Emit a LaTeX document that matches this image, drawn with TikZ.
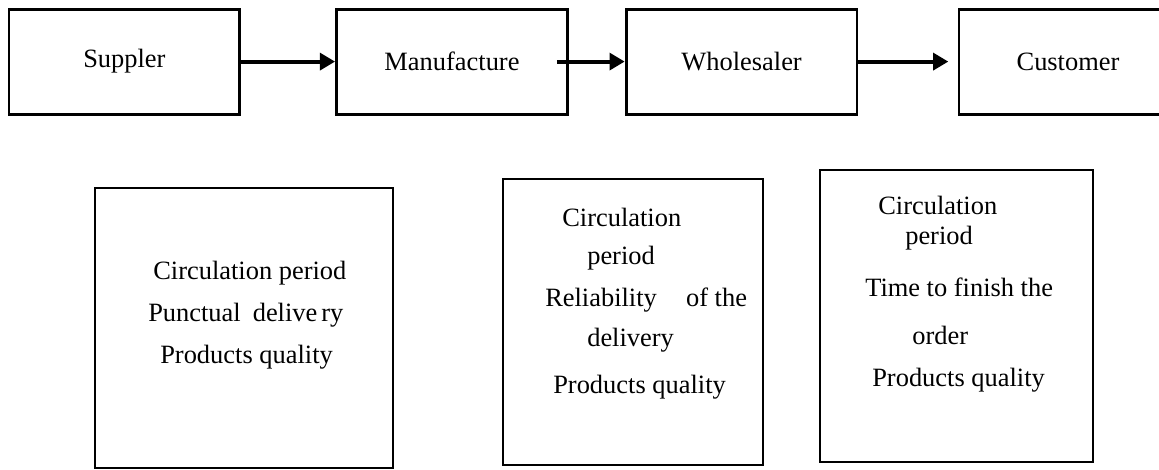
\documentclass[tikz,border=0pt]{standalone}
\usepackage{fontspec}
\setmainfont{Liberation Serif}
\usetikzlibrary{arrows.meta, positioning}

\tikzset{
  stage/.style={draw, line width=2.1pt, minimum width=5.77cm, minimum height=2.625cm,
    font=\fontsize{18.8pt}{22pt}\selectfont},
  critbox/.style={draw, line width=2.1pt},
  critline/.style={anchor=west, inner sep=0pt, font=\fontsize{18.8pt}{22pt}\selectfont},
  flow/.style={line width=2.8pt, -{Triangle[length=0.38cm, width=0.42cm]}}
}

\begin{document}
\begin{tikzpicture}
\useasboundingbox (0,0) rectangle (28.975,11.75);
\clip (0,0) rectangle (28.975,11.75);

% Supply chain
\node[stage] (sup) at (3.11,10.21) {Suppler};
\node[stage] (man) at (11.3,10.21) {Manufacture};
\node[stage] (who) at (18.54,10.21) {Wholesaler};
\node[stage, minimum width=5.45cm] (cus) at (26.7,10.21) {Customer};

\draw[flow] (sup) -- (man);
\draw[flow] ([xshift=-0.3cm]man.east) -- (who.west);
\draw[flow] (who) -- ([xshift=-0.23cm]cus.west);

% Criteria boxes
\node[critbox, minimum width=7.45cm, minimum height=7cm] (supcrit) at (6.1,3.55) {};
\node[critbox, minimum width=6.5cm, minimum height=7.15cm] (mancrit) at (15.825,3.7) {};
\node[critbox, minimum width=6.825cm, minimum height=7.3cm] (whocrit) at (23.9125,3.85) {};

% Criteria text
\foreach \x/\y/\label [count=\i] in {3.825/4.925/Circulation period,
    3.7/3.875/Punctual\hspace{0.3cm}delive\hspace{0.1cm}ry, 4.0/2.825/Products quality} {
    \node[critline] (supcrit-\i) at (\x,\y) {\label};
}
\foreach \x/\y/\label [count=\i] in {14.05/6.325/Circulation, 14.675/5.3/period,
    13.625/4.25/Reliability\hspace{0.73cm}of the, 14.675/3.25/delivery,
    13.825/2.075/Products quality} {
    \node[critline] (mancrit-\i) at (\x,\y) {\label};
}
\foreach \x/\y/\label [count=\i] in {21.95/6.625/Circulation, 22.625/5.8/period,
    21.625/4.575/Time to finish the, 22.8/3.375/order, 21.8/2.25/Products quality} {
    \node[critline] (whocrit-\i) at (\x,\y) {\label};
}
\end{tikzpicture}
\end{document}
